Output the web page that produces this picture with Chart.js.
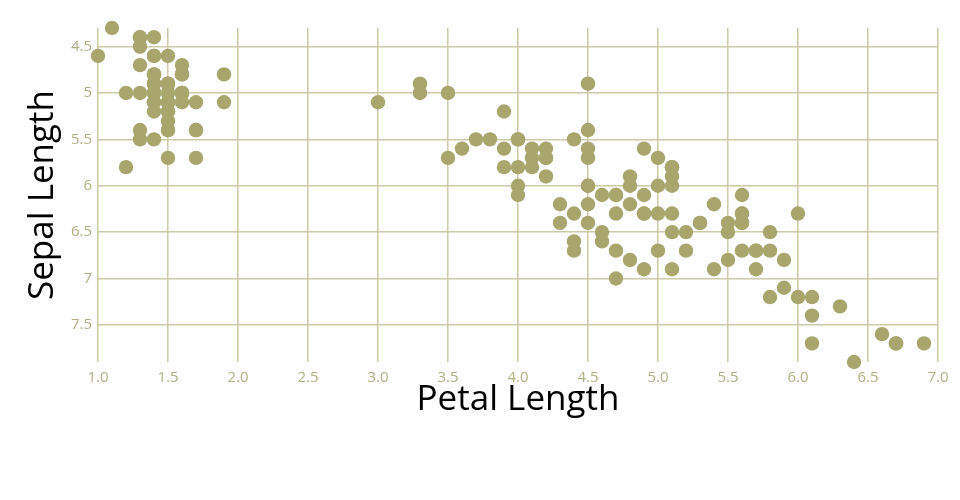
<!DOCTYPE html>
<html>
<head>
<meta charset="utf-8">
<script src="https://cdn.jsdelivr.net/npm/chart.js@4"></script>
<style>
html,body{margin:0;padding:0;background:#fff;}
#wrap{width:960px;height:500px;position:relative;}
</style>
</head>
<body>
<div id="wrap"><canvas id="c" width="960" height="500"></canvas></div>
<script>
const petalLength = [
1.4,1.4,1.3,1.5,1.4,1.7,1.4,1.5,1.4,1.5,1.5,1.6,1.4,1.1,1.2,1.5,1.3,1.4,1.7,1.5,
1.7,1.5,1.0,1.7,1.9,1.6,1.6,1.5,1.4,1.6,1.6,1.5,1.5,1.4,1.5,1.2,1.3,1.4,1.3,1.5,
1.3,1.3,1.3,1.6,1.9,1.4,1.6,1.4,1.5,1.4,
4.7,4.5,4.9,4.0,4.6,4.5,4.7,3.3,4.6,3.9,3.5,4.2,4.0,4.7,3.6,4.4,4.5,4.1,4.5,3.9,
4.8,4.0,4.9,4.7,4.3,4.4,4.8,5.0,4.5,3.5,3.8,3.7,3.9,5.1,4.5,4.5,4.7,4.4,4.1,4.0,
4.4,4.6,4.0,3.3,4.2,4.2,4.2,4.3,3.0,4.1,
6.0,5.1,5.9,5.6,5.8,6.6,4.5,6.3,5.8,6.1,5.1,5.3,5.5,5.0,5.1,5.3,5.5,6.7,6.9,5.0,
5.7,4.9,6.7,4.9,5.7,6.0,4.8,4.9,5.6,5.8,6.1,6.4,5.6,5.1,5.6,6.1,5.6,5.5,4.8,5.4,
5.6,5.1,5.1,5.9,5.7,5.2,5.0,5.2,5.4,5.1
];
const sepalLength = [
5.1,4.9,4.7,4.6,5.0,5.4,4.6,5.0,4.4,4.9,5.4,4.8,4.8,4.3,5.8,5.7,5.4,5.1,5.7,5.1,
5.4,5.1,4.6,5.1,4.8,5.0,5.0,5.2,5.2,4.7,4.8,5.4,5.2,5.5,4.9,5.0,5.5,4.9,4.4,5.1,
5.0,4.5,4.4,5.0,5.1,4.8,5.1,4.6,5.3,5.0,
7.0,6.4,6.9,5.5,6.5,5.7,6.3,4.9,6.6,5.2,5.0,5.9,6.0,6.1,5.6,6.7,5.6,5.8,6.2,5.6,
5.9,6.1,6.3,6.1,6.4,6.6,6.8,6.7,6.0,5.7,5.5,5.5,5.8,6.0,5.4,6.0,6.7,6.3,5.6,5.5,
5.5,6.1,5.8,5.0,5.6,5.7,5.7,6.2,5.1,5.7,
6.3,5.8,7.1,6.3,6.5,7.6,4.9,7.3,6.7,7.2,6.5,6.4,6.8,5.7,5.8,6.4,6.5,7.7,7.7,6.0,
6.9,5.6,7.7,6.3,6.7,7.2,6.2,6.1,6.4,7.2,7.4,7.9,6.4,6.3,6.1,7.7,6.3,6.4,6.0,6.9,
6.7,6.9,5.8,6.8,6.7,6.7,6.3,6.5,6.2,5.9
];
const xTicks = [1.0,1.5,2.0,2.5,3.0,3.5,4.0,4.5,5.0,5.5,6.0,6.5,7.0];
const yTicks = [4.5,5.0,5.5,6.0,6.5,7.0,7.5];
const xTitle = "Petal Length";
const yTitle = "Sepal Length";

const points = petalLength.map((x,i)=>({x:x, y:sepalLength[i]}));
const olive = '#a8a66c';
const gridCol = '#cccaa8';
const tickCol = '#b2b083';

new Chart(document.getElementById('c'), {
  type:'scatter',
  data:{datasets:[{
    data: points,
    backgroundColor: olive,
    borderColor: olive,
    borderWidth: 0,
    pointRadius: 7.2,
    pointHoverRadius: 7.2,
    clip: false
  }]},
  options:{
    responsive:false,
    animation:false,
    devicePixelRatio:1,
    layout:{padding:{left:0,right:22,top:28,bottom:78}},
    plugins:{legend:{display:false},tooltip:{enabled:false}},
    scales:{
      x:{
        type:'linear', min:1, max:7,
        afterBuildTicks:(s)=>{ s.ticks = xTicks.map(v=>({value:v})); },
        afterFit:(s)=>{ s.height = 60; },
        grid:{color:gridCol, lineWidth:1.5, drawTicks:false},
        border:{display:false},
        ticks:{color:tickCol, padding:7, font:{family:'Open Sans', size:15},
          callback:(v)=>Number(v).toFixed(1), maxRotation:0, autoSkip:false},
        title:{display:true, text:xTitle, color:'#000', font:{family:'Open Sans', size:35}, padding:{top:0,bottom:1}}
      },
      y:{
        type:'linear', min:4.3, max:7.9, reverse:true,
        afterBuildTicks:(s)=>{ s.ticks = yTicks.map(v=>({value:v})); },
        afterFit:(s)=>{ s.width = 98; },
        grid:{color:gridCol, lineWidth:1.5, drawTicks:false},
        border:{display:false},
        ticks:{color:tickCol, padding:6, font:{family:'Open Sans', size:15},
          callback:(v)=>String(Number(v)), autoSkip:false},
        title:{display:true, text:yTitle, color:'#000', font:{family:'Open Sans', size:35}, padding:{top:22,bottom:0}}
      }
    }
  }
});
</script>
</body>
</html>
